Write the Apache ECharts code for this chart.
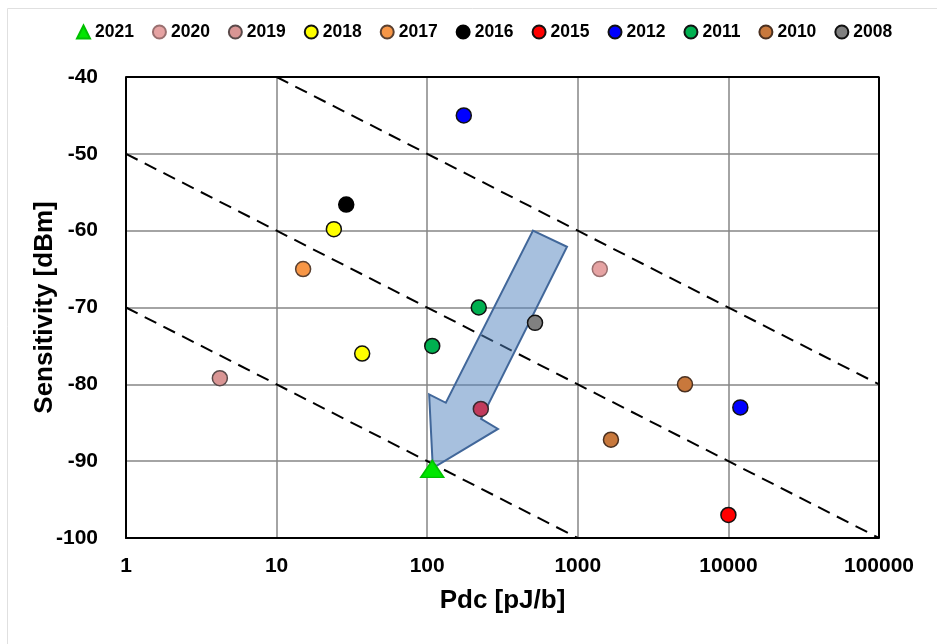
<!DOCTYPE html>
<html>
<head>
<meta charset="utf-8">
<script src="https://cdn.jsdelivr.net/npm/echarts@6/dist/echarts.min.js"></script>
<style>
  html, body { margin: 0; padding: 0; background: #fff; }
  #chart { width: 937px; height: 644px; }
</style>
</head>
<body>
<div id="chart"></div>
<script>
// Receiver sensitivity versus DC energy per bit, grouped by publication year
const years = ['2021', '2020', '2019', '2018', '2017', '2016', '2015', '2012', '2011', '2010', '2008'];

const pts2021 = [[108, -91]];
const pts2020 = [[1400, -65]];
const pts2019 = [[4.2, -79.2], [227, -83.2]];
const pts2018 = [[24, -59.8], [37, -76]];
const pts2017 = [[15, -65]];
const pts2016 = [[29, -56.6]];
const pts2015 = [[10000, -97]];
const pts2012 = [[175, -45], [12000, -83]];
const pts2011 = [[220, -70], [108, -75]];
const pts2010 = [[5150, -80], [1660, -87.2]];
const pts2008 = [[520, -72]];

// Figure-of-merit guide lines (slope -10 dB per decade)
const guideA = [[10, -40], [100000, -80]];
const guideB = [[1, -50], [100000, -100]];
const guideC = [[1, -70], [1000, -100]];

// Trend arrow outline, in (Pdc, dBm)
const trendArrow = [[504, -60], [848, -62.1], [228, -84.5], [295, -85.8], [109, -90.9], [103, -81.3], [133, -82.4]];

const xTicks = [1, 10, 100, 1000, 10000, 100000];
const yTicks = [-40, -50, -60, -70, -80, -90, -100];

const AXIS_FONT = '"Liberation Sans", Arial, sans-serif';
const LEGEND_FONT = '"Liberation Sans", Arial, sans-serif';

function pointSeries(name, data, fill, border, extra) {
  return Object.assign({
    name: name,
    type: 'scatter',
    data: data,
    symbol: 'circle',
    symbolSize: 15,
    z: 5,
    itemStyle: { color: fill, borderColor: border, borderWidth: 1.5, opacity: 1 },
    emphasis: { disabled: true }
  }, extra || {});
}

function guideSeries(data) {
  return {
    type: 'line',
    data: data,
    symbol: 'none',
    silent: true,
    z: 2,
    lineStyle: { color: '#000', width: 2, type: [13, 8] }
  };
}

const chart = echarts.init(document.getElementById('chart'), null, { renderer: 'canvas' });

const option = {
  backgroundColor: '#fff',
  animation: false,
  graphic: [{
    type: 'rect',
    left: 5, top: 6,
    shape: { width: 960, height: 660 },
    style: { fill: 'none', stroke: '#e0e0e0', lineWidth: 1 },
    silent: true, z: -10
  }],
  legend: {
    top: 18,
    left: 71,
    itemWidth: 13,
    itemHeight: 13,
    itemGap: 18,
    data: years.map(y => ({ name: y })),
    textStyle: { fontFamily: LEGEND_FONT, fontWeight: 'bold', fontSize: 17.5, color: '#000' }
  },
  grid: { left: 126, right: 58, top: 77, bottom: 106 },
  xAxis: {
    type: 'log',
    logBase: 10,
    min: xTicks[0],
    max: xTicks[xTicks.length - 1],
    name: 'Pdc [pJ/b]',
    nameLocation: 'middle',
    nameGap: 50,
    nameMoveOverlap: false,
    nameTextStyle: { fontFamily: AXIS_FONT, fontWeight: 'bold', fontSize: 26, color: '#000' },
    axisLine: { show: true, onZero: false, lineStyle: { color: '#000', width: 2 } },
    axisTick: { show: false },
    axisLabel: {
      margin: 18,
      fontFamily: AXIS_FONT, fontWeight: 'bold', fontSize: 21, color: '#000',
      formatter: v => String(Math.round(v))
    },
    splitLine: { show: true, lineStyle: { color: '#868686', width: 1.5 } }
  },
  yAxis: {
    type: 'value',
    min: yTicks[yTicks.length - 1],
    max: yTicks[0],
    interval: 10,
    name: 'Sensitivity [dBm]',
    nameLocation: 'middle',
    nameGap: 68,
    nameMoveOverlap: false,
    nameTextStyle: { fontFamily: AXIS_FONT, fontWeight: 'bold', fontSize: 26, color: '#000' },
    axisLine: { show: true, onZero: false, lineStyle: { color: '#000', width: 2 } },
    axisTick: { show: false },
    axisLabel: { margin: 28, fontFamily: AXIS_FONT, fontWeight: 'bold', fontSize: 21, color: '#000' },
    splitLine: { show: true, lineStyle: { color: '#868686', width: 1.5 } }
  },
  series: [
    guideSeries(guideA),
    guideSeries(guideB),
    guideSeries(guideC),
    {
      type: 'custom',
      silent: true,
      z: 3,
      data: [0],
      renderItem: function (params, api) {
        const pts = trendArrow.map(p => api.coord(p));
        return {
          type: 'polygon',
          shape: { points: pts },
          style: { fill: 'rgba(79,129,189,0.5)', stroke: '#41679a', lineWidth: 2 }
        };
      }
    },
    // frame along the top and right edges of the plot
    {
      type: 'line',
      data: [[xTicks[0], yTicks[0]], [xTicks[xTicks.length - 1], yTicks[0]], [xTicks[xTicks.length - 1], yTicks[yTicks.length - 1]]],
      symbol: 'none', silent: true, z: 4,
      lineStyle: { color: '#000', width: 2 }
    },
    pointSeries('2021', pts2021, '#00e600', '#00c000', { symbol: 'triangle', symbolSize: [23, 17], z: 6 }),
    pointSeries('2020', pts2020, '#e6a3a3', '#9a7070'),
    pointSeries('2019', pts2019.map((p, i) => i === 1
      ? { value: p, itemStyle: { color: '#c23b5c', borderColor: '#3a2a30' } }
      : { value: p }), '#d99594', '#5a4a4a'),
    pointSeries('2018', pts2018, '#ffff00', '#111'),
    pointSeries('2017', pts2017, '#f79646', '#5a4030'),
    pointSeries('2016', pts2016, '#000000', '#000'),
    pointSeries('2015', pts2015, '#ff0000', '#111'),
    pointSeries('2012', pts2012, '#0000ff', '#111'),
    pointSeries('2011', pts2011, '#00b050', '#111'),
    pointSeries('2010', pts2010, '#c8783c', '#4a3020'),
    pointSeries('2008', pts2008, '#808080', '#111')
  ]
};

chart.setOption(option);
</script>
</body>
</html>
